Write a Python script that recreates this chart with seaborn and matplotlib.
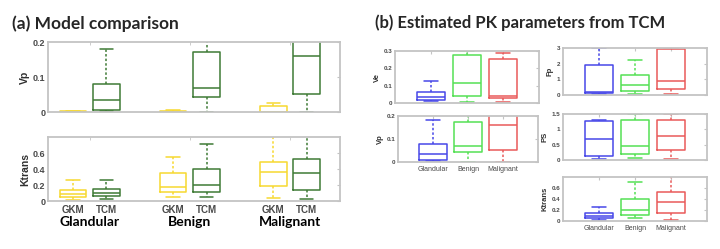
import pandas as pd
import matplotlib.pyplot as plt
import seaborn as sns

# five-number summaries: [low whisker, q1, median, q3, high whisker]
groups = ["Glandular", "Benign", "Malignant"]
models = ["GKM", "TCM"]

vp_gkm = [[0.0, 0.0, 0.001, 0.002, 0.003], [0.0, 0.0, 0.001, 0.003, 0.006], [0.0, 0.0, 0.001, 0.018, 0.027]]
vp_tcm = [[0.003, 0.007, 0.035, 0.080, 0.181], [0.001, 0.043, 0.069, 0.172, 0.25], [0.0, 0.052, 0.161, 0.25, 0.35]]
ktrans_gkm = [[0.012, 0.050, 0.091, 0.137, 0.261], [0.050, 0.116, 0.174, 0.344, 0.551], [0.037, 0.186, 0.360, 0.484, 0.90]]
ktrans_tcm = [[0.021, 0.058, 0.099, 0.149, 0.257], [0.046, 0.108, 0.199, 0.397, 0.716], [0.021, 0.137, 0.352, 0.530, 0.90]]
ve_tcm = [[0.010, 0.019, 0.035, 0.063, 0.129], [0.006, 0.040, 0.115, 0.275, 0.30], [0.006, 0.027, 0.038, 0.256, 0.29]]
fp_tcm = [[0.04, 0.10, 0.17, 1.89, 3.0], [0.06, 0.25, 0.67, 1.30, 2.26], [0.06, 0.38, 0.88, 2.96, 3.0]]
ps_tcm = [[0.04, 0.12, 0.69, 1.27, 1.29], [0.05, 0.19, 0.45, 1.30, 1.50], [0.02, 0.33, 0.78, 1.30, 1.50]]

model_colors = {"GKM": "#F7D930", "TCM": "#3F7B36"}
group_colors = {"Glandular": "#4848E8", "Benign": "#55E055", "Malignant": "#EA5A5A"}
FRAME = "#C4C4C4"
TICK = "#4A4A4A"

W, H = 720, 249


def rect(x0, y0, x1, y1):
    return [x0 / W, 1 - y1 / H, (x1 - x0) / W, (y1 - y0) / H]


def long_form(stats_by_model):
    rows = []
    for m, stats in stats_by_model.items():
        for g, five in enumerate(stats):
            for v in five:
                rows.append({"pos": 3 * g + models.index(m) + 1, "model": m, "group": groups[g], "value": v})
    return pd.DataFrame(rows)


def style_axes(ax, ylim, yticks, ylabel, fs, lab_fs):
    ax.set_ylim(*ylim)
    ax.set_yticks(yticks)
    ax.set_yticklabels([f"{t:g}" for t in yticks], fontsize=fs, fontweight="bold", color=TICK)
    ax.set_ylabel(ylabel, fontsize=lab_fs, fontweight="bold", color="#303030", labelpad=2)
    for s in ax.spines.values():
        s.set_color(FRAME)
        s.set_linewidth(1.3)
    ax.tick_params(axis="y", direction="in", right=True, length=2, color=FRAME, pad=2)
    ax.tick_params(axis="x", direction="in", top=True, length=2, color=FRAME)


box_kws = dict(fill=False, whis=(0, 100), linewidth=1.1,
               whiskerprops={"linestyle": (0, (1.6, 1.4))})

sns.set_style("white")
plt.rcParams["font.family"] = ["Liberation Sans", "DejaVu Sans"]
fig = plt.figure(figsize=(7.2, 2.49), dpi=100)

# (a) model comparison
ax1 = fig.add_axes(rect(48, 42, 340, 112))
ax2 = fig.add_axes(rect(48, 137, 340, 201))
for ax, gkm, tcm, label, ylim, yticks in [
    (ax1, vp_gkm, vp_tcm, "Vp", (0, 0.2), [0, 0.1, 0.2]),
    (ax2, ktrans_gkm, ktrans_tcm, "Ktrans", (0, 0.8), [0, 0.2, 0.4, 0.6]),
]:
    df = long_form({"GKM": gkm, "TCM": tcm})
    sns.boxplot(data=df, x="pos", y="value", hue="model", palette=model_colors,
                native_scale=True, dodge=False, width=0.8, legend=False, ax=ax, **box_kws)
    ax.set_xlim(0.25, 9.0)
    ax.set_xlabel("")
    style_axes(ax, ylim, yticks, label, 6.5, 7.5)
    ax.set_xticks([1.5, 4.5, 7.5], minor=True)
    ax.tick_params(axis="x", which="minor", direction="in", top=True, length=2.5, color=FRAME)
    ax.tick_params(axis="x", which="major", length=0)

ax1.set_xticks([])
pos = [3 * g + k + 1 for g in range(len(groups)) for k in range(len(models))]
ax2.set_xticks(pos)
ax2.set_xticklabels(models * len(groups), fontsize=7, fontweight="bold", color=TICK)
ax2.tick_params(axis="x", which="major", pad=3)
for g, name in enumerate(groups):
    ax2.text(3 * g + 1.5, -0.33, name, transform=ax2.get_xaxis_transform(), ha="center", va="center",
             fontsize=10, fontweight="bold", family=["Lato", "DejaVu Sans"], color="black")

# (b) estimated PK parameters from TCM
panels_b = [
    (rect(395, 51, 539, 103), ve_tcm, "Ve", (0, 0.3), [0, 0.1, 0.2, 0.3], False),
    (rect(563, 48, 707, 95), fp_tcm, "Fp", (0, 3), [0, 1, 2, 3], False),
    (rect(398, 116, 538, 162), vp_tcm, "Vp", (0, 0.2), [0, 0.1, 0.2], True),
    (rect(563, 114, 707, 160), ps_tcm, "PS", (0, 1.5), [0, 0.5, 1, 1.5], False),
    (rect(563, 177, 707, 221), ktrans_tcm, "Ktrans", (0, 0.8), [0, 0.2, 0.4, 0.6], True),
]
for r, stats, label, ylim, yticks, show_x in panels_b:
    ax = fig.add_axes(r)
    df = pd.DataFrame([{"group": groups[g], "value": v} for g, five in enumerate(stats) for v in five])
    sns.boxplot(data=df, x="group", y="value", hue="group", palette=group_colors,
                width=0.8, legend=False, ax=ax, **box_kws)
    ax.set_xlim(-1, 3)
    ax.set_xlabel("")
    style_axes(ax, ylim, yticks, label, 4.5, 5.5)
    if show_x:
        ax.set_xticks(range(len(groups)))
        ax.set_xticklabels(groups, fontsize=5, color=TICK)
        ax.tick_params(axis="x", pad=3)
    else:
        ax.set_xticklabels([])

fig.text(12 / W, 1 - 24 / H, "(a) Model comparison", ha="left", va="center",
         fontsize=12.5, fontweight="bold", family=["Lato", "DejaVu Sans"])
fig.text(375 / W, 1 - 23 / H, "(b) Estimated PK parameters from TCM", ha="left", va="center",
         fontsize=12, fontweight="bold", family=["Lato", "DejaVu Sans"])

fig.savefig("out.png", dpi=100)
